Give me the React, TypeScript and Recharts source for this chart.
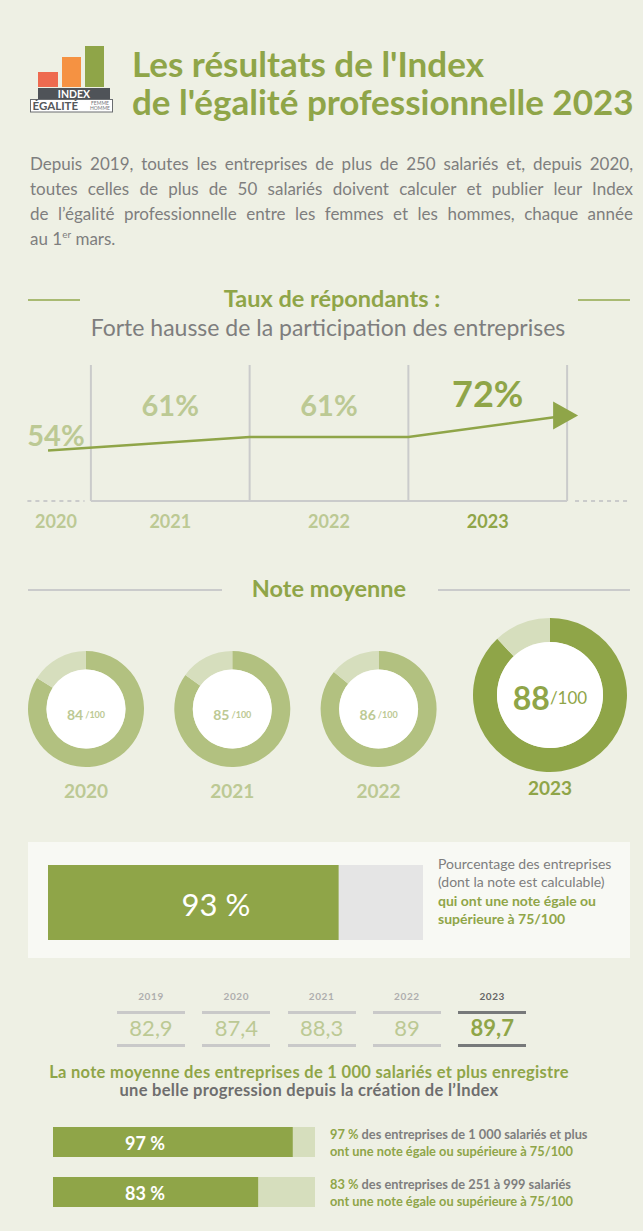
import React from "react";
import {
  ComposedChart,
  Line,
  Scatter,
  XAxis,
  YAxis,
  ReferenceLine,
  PieChart,
  Pie,
  Cell,
  BarChart,
  Bar,
  LabelList,
} from "recharts";

// Taux de répondants
const respondYears = [2020, 2021, 2022, 2023];
const respondRates = [54, 61, 61, 72];

// Note moyenne
const noteYears = [2020, 2021, 2022, 2023];
const noteValues = [84, 85, 86, 88];

// Part des entreprises avec note >= 75/100
const shareAbove75 = 93;

// Note moyenne des entreprises de 1 000 salariés et plus
const bigYears = ["2019", "2020", "2021", "2022", "2023"];
const bigNotes = [82.9, 87.4, 88.3, 89, 89.7];

// Par taille d'entreprise
const sizeGroups = ["1\u00A0000 salariés et plus", "251 à 999 salariés"];
const sizeShares = [97, 83];

const GREEN = "#8FA548";
const GREEN_LIGHT = "#B2C180";
const GREEN_PALE = "#D6DEBD";
const LABEL_LIGHT = "#BCC994";
const GRID = "#CACBCB";
const GRAY_TEXT = "#7E7E7E";
const BG = "#EEF0E4";
const FONT = "Lato, 'Open Sans', sans-serif";

type TxtProps = {
  x: number;
  y: number;
  size: number;
  color: string;
  weight?: number;
  align?: "left" | "center";
  children: React.ReactNode;
  style?: React.CSSProperties;
};

function Txt({ x, y, size, color, weight = 400, align = "left", children, style }: TxtProps) {
  const base: React.CSSProperties = {
    position: "absolute",
    top: y,
    transform: "translateY(-50%)",
    fontSize: size,
    color,
    fontWeight: weight,
    lineHeight: 1.2,
    whiteSpace: "nowrap",
  };
  if (align === "center") {
    return (
      <div style={{ ...base, left: x - 320, width: 640, textAlign: "center", ...style }}>
        {children}
      </div>
    );
  }
  return <div style={{ ...base, left: x, ...style }}>{children}</div>;
}

function Rule({ x1, x2, y, color, h = 1.5 }: { x1: number; x2: number; y: number; color: string; h?: number }) {
  return (
    <div style={{ position: "absolute", left: x1, top: y - h / 2, width: x2 - x1, height: h, background: color }} />
  );
}

function Logo() {
  return (
    <svg width={90} height={72} style={{ position: "absolute", left: 28, top: 44 }} viewBox="28 44 90 72">
      <rect x={38} y={72} width={20} height={15} fill="#EE6A4F" />
      <rect x={62} y={57} width={19} height={30} fill="#F59242" />
      <rect x={85} y={46} width={19} height={41} fill="#8FA548" />
      <rect x={38} y={88} width={72} height={11} fill="#4F5358" />
      <text x={74} y={97.5} textAnchor="middle" fontSize={10.5} fontWeight={700} fill="#fff" fontFamily={FONT}>
        INDEX
      </text>
      <rect x={30.5} y={99.5} width={82} height={12.5} fill="#fff" stroke="#6A6D70" strokeWidth={1} />
      <text x={32.5} y={110} fontSize={11.5} fontWeight={700} fill="#55585C" fontFamily={FONT}>
        ÉGALITÉ
      </text>
      <text x={100} y={104.6} textAnchor="middle" fontSize={5} fill="#77797C" fontFamily={FONT}>
        FEMME
      </text>
      <text x={100} y={109.8} textAnchor="middle" fontSize={5} fill="#77797C" fontFamily={FONT}>
        HOMME
      </text>
    </svg>
  );
}

function YearTick(props: any) {
  const { x, y, index } = props;
  const last = index === respondYears.length - 1;
  return (
    <text
      x={x}
      y={y + 20}
      textAnchor="middle"
      dominantBaseline="central"
      fontSize={18}
      fontWeight={700}
      fill={last ? GREEN : LABEL_LIGHT}
      fontFamily={FONT}
    >
      {respondYears[index]}
    </text>
  );
}

function RespondChart() {
  // line vertices sit on the column borders, the first one inside the 2020 stub
  const lineData = respondRates.map((v, i) => ({ x: i === 0 ? -0.27 : i, y: v }));
  const labelData = respondRates.map((v, i) => ({ x: i === 0 ? -0.22 : i - 0.5, y: v, i }));
  const lift = [16, 32, 32, 23];
  const last = respondRates.length - 1;
  return (
    <div style={{ position: "absolute", left: 0, top: 340 }}>
      <ComposedChart width={643} height={200} margin={{ top: 25, right: 12.4, bottom: 0, left: 27.4 }}>
        <XAxis
          type="number"
          dataKey="x"
          domain={[-0.4, 3.4]}
          ticks={labelData.map((d) => d.x)}
          interval={0}
          axisLine={false}
          tickLine={false}
          tickSize={0}
          tickMargin={0}
          height={39}
          allowDataOverflow
          tick={<YearTick />}
        />
        <YAxis type="number" dataKey="y" domain={[28, 98]} hide allowDataOverflow />
        {[0, 1, 2, 3].map((k) => (
          <ReferenceLine key={k} x={k} stroke={GRID} strokeWidth={2} />
        ))}
        <ReferenceLine segment={[{ x: 0, y: 28 }, { x: 3, y: 28 }]} stroke={GRID} strokeWidth={2} />
        <ReferenceLine
          segment={[{ x: -0.4, y: 28 }, { x: -0.04, y: 28 }]}
          stroke={GRID}
          strokeWidth={2}
          strokeDasharray="4 4"
        />
        <ReferenceLine
          segment={[{ x: 3.05, y: 28 }, { x: 3.4, y: 28 }]}
          stroke={GRID}
          strokeWidth={2}
          strokeDasharray="4 4"
        />
        <Line
          data={lineData}
          dataKey="y"
          type="linear"
          stroke={GREEN}
          strokeWidth={2.5}
          isAnimationActive={false}
          dot={(p: any) =>
            p.index === last ? (
              <path
                key="arrow"
                d={`M${p.cx - 14},${p.cy - 14} L${p.cx + 11},${p.cy} L${p.cx - 14},${p.cy + 14} Z`}
                fill={GREEN}
              />
            ) : (
              <g key={`d${p.index}`} />
            )
          }
        />
        <Scatter
          data={labelData}
          dataKey="y"
          isAnimationActive={false}
          shape={(p: any) => {
            const i = p.payload.i;
            const isLast = i === last;
            return (
              <text
                x={p.cx}
                y={p.cy - lift[i]}
                textAnchor="middle"
                dominantBaseline="central"
                fontSize={isLast ? 36 : 29}
                fontWeight={700}
                fill={isLast ? GREEN : LABEL_LIGHT}
                fontFamily={FONT}
              >
                {respondRates[i]}%
              </text>
            );
          }}
        />
      </ComposedChart>
    </div>
  );
}

function NoteDonuts() {
  const lastIdx = noteValues.length - 1;
  return (
    <div style={{ position: "absolute", left: 0, top: 610 }}>
      <PieChart width={643} height={200} margin={{ top: 0, right: 0, bottom: 0, left: 0 }}>
        {noteValues.map((v, i) => {
          const last = i === lastIdx;
          const inner = last ? 53 : 39.5;
          const data = [
            { name: "note", value: v },
            { name: "reste", value: 100 - v },
          ];
          return (
            <Pie
              key={noteYears[i]}
              data={data}
              dataKey="value"
              cx={last ? 550 : 86 + i * 146.3}
              cy={last ? 85 : 99}
              innerRadius={inner}
              outerRadius={last ? 77 : 58}
              startAngle={90}
              endAngle={-270}
              stroke="none"
              isAnimationActive={false}
              labelLine={false}
              label={(lp: any) => {
                if (lp.index !== 0) return <g key={`n${i}`} />;
                const cx = lp.cx;
                const cy = lp.cy;
                return (
                  <g key={`c${i}`}>
                    <circle cx={cx} cy={cy} r={inner} fill="#fff" />
                    <text
                      x={cx}
                      y={cy + (last ? 2 : 5)}
                      textAnchor="middle"
                      dominantBaseline="central"
                      fontFamily={FONT}
                      fill={last ? GREEN : LABEL_LIGHT}
                      fontWeight={700}
                    >
                      <tspan fontSize={last ? 32 : 14}>{v}</tspan>
                      <tspan fontSize={last ? 17 : 9} fontWeight={last ? 400 : 700} dx={last ? 0 : 2}>
                        /100
                      </tspan>
                    </text>
                    <text
                      x={cx}
                      y={cy + (last ? 92 : 81)}
                      textAnchor="middle"
                      dominantBaseline="central"
                      fontFamily={FONT}
                      fontSize={19}
                      fontWeight={700}
                      fill={last ? GREEN : LABEL_LIGHT}
                    >
                      {noteYears[i]}
                    </text>
                  </g>
                );
              }}
            >
              <Cell fill={last ? GREEN : GREEN_LIGHT} />
              <Cell fill={GREEN_PALE} />
            </Pie>
          );
        })}
      </PieChart>
    </div>
  );
}

function ShareBar() {
  return (
    <div style={{ position: "absolute", left: 48, top: 865 }}>
      <BarChart
        width={375}
        height={75}
        layout="vertical"
        data={[{ name: "toutes", value: shareAbove75 }]}
        margin={{ top: 0, right: 0, bottom: 0, left: 0 }}
        barCategoryGap={0}
      >
        <XAxis type="number" domain={[0, 120]} hide />
        <YAxis type="category" dataKey="name" hide />
        <Bar dataKey="value" fill={GREEN} background={{ fill: "#E5E5E5" }} isAnimationActive={false}>
          <LabelList
            dataKey="value"
            content={(lp: any) => (
              <text
                x={lp.x + 168}
                y={lp.y + lp.height / 2 + 1}
                textAnchor="middle"
                dominantBaseline="central"
                fontSize={31}
                fill="#fff"
                fontFamily={FONT}
              >
                {lp.value} %
              </text>
            )}
          />
        </Bar>
      </BarChart>
    </div>
  );
}

function SizeBars() {
  const data = sizeGroups.map((g, i) => ({ name: g, value: sizeShares[i] }));
  return (
    <div style={{ position: "absolute", left: 53, top: 1117 }}>
      <BarChart width={262} height={100} layout="vertical" data={data} margin={{ top: 0, right: 0, bottom: 0, left: 0 }}>
        <XAxis type="number" domain={[0, 106]} hide />
        <YAxis type="category" dataKey="name" hide />
        <Bar dataKey="value" fill={GREEN} barSize={30} background={{ fill: GREEN_PALE }} isAnimationActive={false}>
          <LabelList
            dataKey="value"
            content={(lp: any) => (
              <text
                x={lp.x + 92}
                y={lp.y + lp.height / 2 + 1}
                textAnchor="middle"
                dominantBaseline="central"
                fontSize={18}
                fontWeight={700}
                fill="#fff"
                fontFamily={FONT}
              >
                {lp.value} %
              </text>
            )}
          />
        </Bar>
      </BarChart>
    </div>
  );
}

function BigCoTable() {
  return (
    <>
      {bigYears.map((yr, i) => {
        const last = i === bigYears.length - 1;
        const left = 117 + i * 85.3;
        const lineColor = last ? "#77797A" : "#C9C9C9";
        return (
          <React.Fragment key={yr}>
            <Txt x={left + 34} y={996} size={10} weight={700} color={last ? "#666" : "#AEAEAE"} align="center" style={{ letterSpacing: 0.6 }}>
              {yr}
            </Txt>
            <Rule x1={left} x2={left + 68} y={1012} color={lineColor} h={3} />
            <Txt x={left + 34} y={1028} size={22} weight={last ? 700 : 400} color={last ? GREEN : LABEL_LIGHT} align="center">
              {bigNotes[i].toString().replace(".", ",")}
            </Txt>
            <Rule x1={left} x2={left + 68} y={1045} color={lineColor} h={3} />
          </React.Fragment>
        );
      })}
    </>
  );
}

const paraLines = [
  "Depuis 2019, toutes les entreprises de plus de 250 salariés et, depuis 2020,",
  "toutes celles de plus de 50 salariés doivent calculer et publier leur Index",
  "de l’égalité professionnelle entre les femmes et les hommes, chaque année",
];

export default function App() {
  return (
    <div
      style={{
        position: "absolute",
        left: 0,
        top: 0,
        width: 643,
        height: 1231,
        background: BG,
        overflow: "hidden",
        fontFamily: FONT,
      }}
    >
      <Logo />
      <Txt x={132} y={63} size={35} weight={700} color={GREEN}>
        Les résultats de l'Index
      </Txt>
      <Txt x={132} y={101} size={35} weight={700} color={GREEN}>
        de l'égalité professionnelle 2023
      </Txt>

      {paraLines.map((l, i) => (
        <div
          key={i}
          style={{
            position: "absolute",
            left: 30,
            width: 603,
            top: 164 + i * 25,
            transform: "translateY(-50%)",
            fontSize: 17,
            lineHeight: 1.2,
            color: GRAY_TEXT,
            textAlign: "justify",
            textAlignLast: "justify",
            whiteSpace: "nowrap",
          }}
        >
          {l}
        </div>
      ))}
      <Txt x={30} y={239} size={17} color={GRAY_TEXT}>
        au 1<sup style={{ fontSize: 10 }}>er</sup> mars.
      </Txt>

      <Rule x1={28} x2={80} y={300} color="#A9BA72" h={1.2} />
      <Rule x1={578} x2={630} y={300} color="#A9BA72" h={1.2} />
      <Txt x={332} y={298} size={23.5} weight={700} color={GREEN} align="center">
        Taux de répondants :
      </Txt>
      <Txt x={328} y={328} size={23} color={GRAY_TEXT} align="center">
        Forte hausse de la participation des entreprises
      </Txt>

      <RespondChart />

      <Rule x1={28} x2={222} y={590} color={GRID} h={1.5} />
      <Rule x1={438} x2={630} y={590} color={GRID} h={1.5} />
      <Txt x={329} y={588} size={23.5} weight={700} color={GREEN} align="center">
        Note moyenne
      </Txt>

      <NoteDonuts />

      <div style={{ position: "absolute", left: 28, top: 842, width: 602, height: 116, background: "#F8F9F4" }} />
      <ShareBar />
      <Txt x={438} y={864} size={14} color={GRAY_TEXT}>
        Pourcentage des entreprises
      </Txt>
      <Txt x={438} y={882} size={14} color={GRAY_TEXT}>
        (dont la note est calculable)
      </Txt>
      <Txt x={438} y={901} size={14} weight={700} color={GREEN}>
        qui ont une note égale ou
      </Txt>
      <Txt x={438} y={919} size={14} weight={700} color={GREEN}>
        supérieure à 75/100
      </Txt>

      <BigCoTable />

      <Txt x={309} y={1073} size={16.5} weight={700} color={GREEN} align="center" style={{ letterSpacing: 0.3 }}>
        La note moyenne des entreprises de 1&nbsp;000 salariés et plus enregistre
      </Txt>
      <Txt x={309} y={1091} size={16.5} weight={700} color="#6E6E6E" align="center" style={{ letterSpacing: 0.3 }}>
        une belle progression depuis la création de l’Index
      </Txt>

      <SizeBars />
      {sizeGroups.map((g, i) => (
        <React.Fragment key={g}>
          <Txt x={330} y={1135 + i * 50} size={12.8} weight={700} color={GRAY_TEXT}>
            <span style={{ color: GREEN }}>{sizeShares[i]} %</span> des entreprises de {g}
          </Txt>
          <Txt x={330} y={1152 + i * 50} size={12.8} weight={700} color={GREEN}>
            ont une note égale ou supérieure à 75/100
          </Txt>
        </React.Fragment>
      ))}
    </div>
  );
}
